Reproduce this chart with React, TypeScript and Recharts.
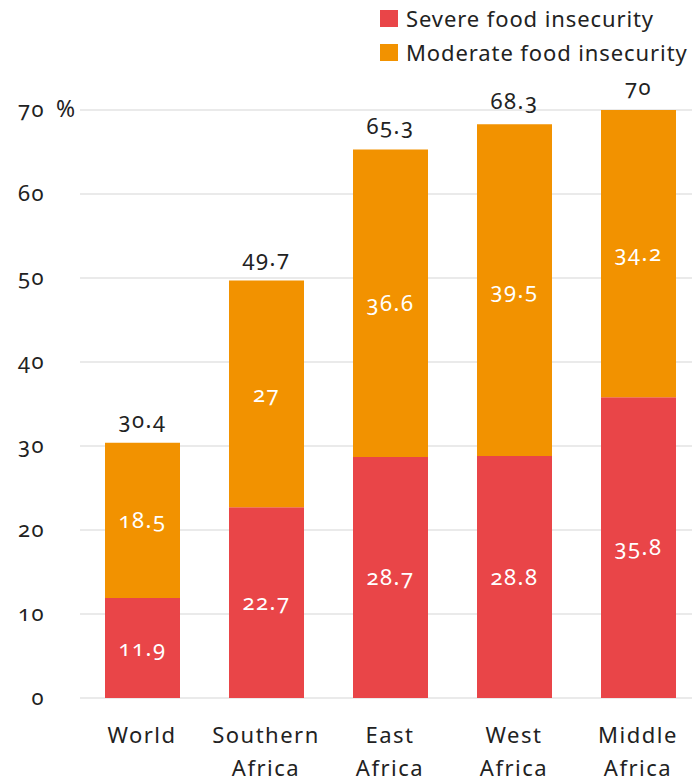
import React from 'react';
import { BarChart, Bar, XAxis, YAxis, CartesianGrid, LabelList } from 'recharts';

const regions = ['World', 'Southern Africa', 'East Africa', 'West Africa', 'Middle Africa'];
const severe = [11.9, 22.7, 28.7, 28.8, 35.8];
const moderate = [18.5, 27, 36.6, 39.5, 34.2];
const totals = [30.4, 49.7, 65.3, 68.3, 70];
const yTicks = [0, 10, 20, 30, 40, 50, 60, 70];

const RED = '#E94548';
const ORANGE = '#F29200';
const FONT = '"Noto Sans", sans-serif';
const SIZE = 22;
const SPACING = 1.5;
const numStyle: React.CSSProperties = {
  fontVariantNumeric: 'oldstyle-nums',
  fontFeatureSettings: '"onum"',
  letterSpacing: SPACING,
};

const data = regions.map((name, i) => ({
  name,
  severe: severe[i],
  moderate: moderate[i],
  total: totals[i],
}));

const YTick = (props: any) => {
  const { y, payload } = props;
  return (
    <g>
      <text x={45} y={y} dy={7} textAnchor="end" fontSize={SIZE} fill="#222" fontFamily={FONT} style={numStyle}>
        {payload.value}
      </text>
      {payload.value === 70 && (
        <text x={56} y={y} dy={7} textAnchor="start" fontSize={SIZE + 1} fill="#222" fontFamily={FONT}>
          %
        </text>
      )}
    </g>
  );
};

const XTick = (props: any) => {
  const { x, y, payload } = props;
  const lines = String(payload.value).split(' ');
  return (
    <text x={x} y={y} textAnchor="middle" fontSize={SIZE} fill="#222" fontFamily={FONT} letterSpacing={SPACING}>
      {lines.map((line, i) => (
        <tspan key={i} x={x} dy={i === 0 ? 37 : 33}>
          {line}
        </tspan>
      ))}
    </text>
  );
};

const legendItems = [
  { label: 'Severe food insecurity', color: RED },
  { label: 'Moderate food insecurity', color: ORANGE },
];

const App: React.FC = () => (
  <div style={{ position: 'absolute', left: 0, top: 0, width: 692, height: 780, overflow: 'hidden', background: '#fff' }}>
    <div
      style={{
        position: 'absolute',
        left: 380,
        top: 1,
        fontFamily: FONT,
        fontSize: SIZE,
        color: '#222',
        letterSpacing: 0.9,
        whiteSpace: 'nowrap',
      }}
    >
      {legendItems.map((item) => (
        <div key={item.label} style={{ display: 'flex', alignItems: 'center', height: 34 }}>
          <span style={{ width: 18, height: 17, background: item.color, marginRight: 8, display: 'inline-block' }} />
          {item.label}
        </div>
      ))}
    </div>
    <BarChart
      width={700}
      height={780}
      data={data}
      margin={{ top: 110, right: 0, left: 0, bottom: 0 }}
      barSize={75}
    >
      <CartesianGrid vertical={false} stroke="#e3e3e3" strokeWidth={1.5} />
      <XAxis dataKey="name" axisLine={false} tickLine={false} height={82} tick={<XTick />} interval={0} />
      <YAxis
        domain={[0, 70]}
        ticks={yTicks}
        axisLine={false}
        tickLine={false}
        width={80}
        tick={<YTick />}
      />
      <Bar dataKey="severe" stackId="a" fill={RED} isAnimationActive={false}>
        <LabelList dataKey="severe" position="center" fill="#fff" fontSize={SIZE} fontFamily={FONT} style={numStyle} />
      </Bar>
      <Bar dataKey="moderate" stackId="a" fill={ORANGE} isAnimationActive={false}>
        <LabelList dataKey="moderate" position="center" fill="#fff" fontSize={SIZE} fontFamily={FONT} style={numStyle} />
        <LabelList dataKey="total" position="top" offset={15} fill="#222" fontSize={SIZE} fontFamily={FONT} style={numStyle} />
      </Bar>
    </BarChart>
  </div>
);

export default App;
